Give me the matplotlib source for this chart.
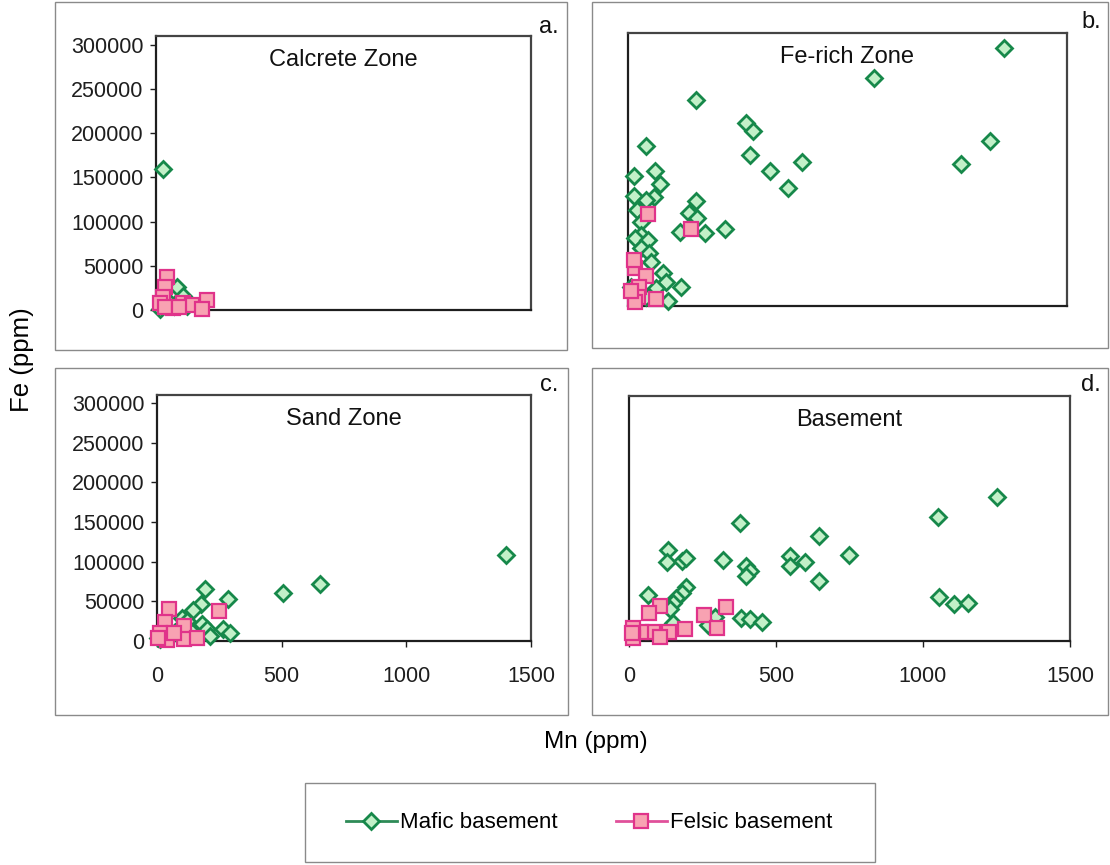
import matplotlib
matplotlib.use("Agg")
import matplotlib.pyplot as plt
from matplotlib.lines import Line2D
from matplotlib.patches import Rectangle

plt.rcParams["font.family"] = ["Liberation Sans", "DejaVu Sans"]

W, H = 1110, 865

# ---- data (Mn ppm, Fe ppm) ----
calcrete_mafic_mn = [29, 85, 109, 53, 16, 123, 70]
calcrete_mafic_fe = [159000, 26000, 16000, 9500, 1500, 4000, 5000]
calcrete_felsic_mn = [43, 36, 29, 16, 69, 36, 109, 143, 203, 183, 90]
calcrete_felsic_fe = [37700, 26400, 15100, 7600, 1900, 3700, 7600, 5700, 11300, 1000, 3000]

ferich_mafic_mn = [1286, 840, 232, 402, 427, 61, 1238, 417, 594, 1139, 486, 545, 20, 93,
                   108, 20, 89, 63, 233, 32, 210, 235, 43, 179, 263, 330, 46, 24, 69, 46,
                   72, 77, 118, 129, 180, 137, 9, 97, 63]
ferich_mafic_fe = [292600, 258500, 233500, 207300, 198600, 182000, 187300, 171800, 163800,
                   160800, 153300, 134300, 147600, 152900, 138400, 124900, 124100, 120300,
                   119200, 109000, 106000, 99600, 95800, 84400, 83300, 87100, 80600, 76900,
                   74900, 65500, 60500, 49600, 37100, 27600, 21900, 6100, 21900, 20000, 10500]
ferich_felsic_mn = [67, 214, 24, 61, 38, 35, 24, 97, 20, 9]
ferich_felsic_fe = [104000, 87000, 42800, 34100, 21900, 10500, 5000, 7500, 52200, 17600]

sand_mafic_mn = [1400, 653, 504, 193, 284, 176, 144, 100, 180, 200, 264, 293, 213, 140,
                 73, 47, 13, 5, 120]
sand_mafic_fe = [108000, 71200, 60700, 64900, 53000, 46700, 39000, 28500, 21200, 14800,
                 14800, 10600, 6400, 11900, 11900, 6400, 2100, 4000, 25000]
sand_felsic_mn = [47, 247, 33, 107, 13, 107, 160, 40, 5, 67]
sand_felsic_fe = [40300, 37400, 23400, 19100, 10700, 2100, 4300, 1000, 4300, 10700]

basement_mafic_mn = [379, 647, 749, 547, 547, 598, 647, 132, 129, 181, 193, 320, 397, 411,
                     397, 64, 193, 181, 161, 149, 138, 291, 380, 411, 451, 149, 269, 1252,
                     1051, 1053, 1104, 1152]
basement_mafic_fe = [149700, 132700, 109400, 107200, 94500, 99600, 75400, 115700, 99600,
                     100900, 105200, 102200, 95400, 88200, 81800, 58500, 68300, 60700,
                     54300, 48700, 40300, 30900, 28800, 27600, 24600, 22500, 20400,
                     182800, 156900, 55600, 46700, 48700]
basement_felsic_mn = [329, 254, 299, 104, 68, 189, 136, 81, 42, 13, 15, 104, 10]
basement_felsic_fe = [42400, 33100, 16100, 44500, 36000, 14800, 11900, 11900, 11900,
                      16100, 3400, 5500, 9800]

y_ticks = [0, 50000, 100000, 150000, 200000, 250000, 300000]
x_ticks = [0, 500, 1000, 1500]

GREEN_EDGE = "#16884a"
GREEN_FACE = "#c2f0c8"
PINK_EDGE = "#e0338a"
PINK_FACE = "#f8a2b2"


def fx(x):
    return x / W


def fy(y):
    return 1 - y / H


def px_axes(fig, left, top, right, bottom):
    return fig.add_axes([fx(left), fy(bottom), (right - left) / W, (bottom - top) / H])


fig = plt.figure(figsize=(W / 100, H / 100), dpi=100)

# panel frames
frames = [(55, 2, 567, 350), (592, 2, 1108, 348), (55, 368, 568, 715), (592, 368, 1108, 715)]
for l, t, r, b in frames:
    fig.add_artist(Rectangle((fx(l), fy(b)), (r - l) / W, (b - t) / H, transform=fig.transFigure,
                             fill=False, edgecolor="#8a8a8a", linewidth=1.0))

panels = [
    ("Calcrete Zone", "a.", (156, 36, 531, 310), calcrete_mafic_mn, calcrete_mafic_fe,
     calcrete_felsic_mn, calcrete_felsic_fe, True, False, (549, 27)),
    ("Fe-rich Zone", "b.", (628, 33, 1067, 306), ferich_mafic_mn, ferich_mafic_fe,
     ferich_felsic_mn, ferich_felsic_fe, False, False, (1091, 22)),
    ("Sand Zone", "c.", (157, 395, 531, 641), sand_mafic_mn, sand_mafic_fe,
     sand_felsic_mn, sand_felsic_fe, True, True, (549, 385)),
    ("Basement", "d.", (629, 396, 1070, 641), basement_mafic_mn, basement_mafic_fe,
     basement_felsic_mn, basement_felsic_fe, False, True, (1091, 385)),
]

for title, letter, box, m_mn, m_fe, f_mn, f_fe, show_y, show_x, lpos in panels:
    l, t, r, b = box
    ax = px_axes(fig, l, t, r, b)
    ax.set_xlim(0, 1500)
    ax.set_ylim(0, 310000)
    ax.plot(m_mn, m_fe, linestyle="none", marker="D", markersize=8.5,
            markerfacecolor=GREEN_FACE, markeredgecolor=GREEN_EDGE, markeredgewidth=2.0,
            clip_on=False, zorder=3)
    ax.plot(f_mn, f_fe, linestyle="none", marker="s", markersize=10,
            markerfacecolor=PINK_FACE, markeredgecolor=PINK_EDGE, markeredgewidth=1.6,
            clip_on=False, zorder=4)
    for s in ax.spines.values():
        s.set_color("#1e1e1e")
        s.set_linewidth(1.6)
    ax.spines["top"].set_color("#444444")
    ax.spines["right"].set_color("#444444")
    if show_y:
        ax.set_yticks(y_ticks)
        ax.set_yticklabels([str(v) for v in y_ticks])
    else:
        ax.set_yticks([])
    if show_x:
        ax.set_xticks(x_ticks)
        ax.set_xticklabels([str(v) for v in x_ticks])
    else:
        ax.set_xticks([])
    ax.tick_params(axis="y", direction="out", length=4, width=1, labelsize=15.5,
                   colors="#1e1e1e", pad=5)
    ax.tick_params(axis="x", direction="out", length=4, width=1, labelsize=15.5,
                   colors="#1e1e1e", pad=14)
    ax.text(0.5, 1 - 24 / (b - t), title, transform=ax.transAxes, ha="center", va="center",
            fontsize=17, color="#111111")
    fig.text(fx(lpos[0]), fy(lpos[1]), letter, ha="center", va="center", fontsize=17,
             color="#111111")

fig.text(fx(22), fy(360), "Fe (ppm)", rotation=90, ha="center", va="center", fontsize=18.5)
fig.text(fx(596), fy(742), "Mn (ppm)", ha="center", va="center", fontsize=17.5)

# legend box
fig.add_artist(Rectangle((fx(305), fy(862)), 570 / W, 79 / H, transform=fig.transFigure,
                         fill=False, edgecolor="#8a8a8a", linewidth=1.0))
handles = [
    Line2D([], [], color="#2e8b57", linewidth=2, marker="D", markersize=8,
           markerfacecolor=GREEN_FACE, markeredgecolor=GREEN_EDGE, markeredgewidth=2.0),
    Line2D([], [], color="#e0509a", linewidth=2, marker="s", markersize=10,
           markerfacecolor=PINK_FACE, markeredgecolor=PINK_EDGE, markeredgewidth=1.6),
]
fig.legend(handles, ["Mafic basement", "Felsic basement"], loc="center",
           bbox_to_anchor=(fx(589), fy(823)), ncol=2, frameon=False, fontsize=16,
           handlelength=2.3, columnspacing=2.6, handletextpad=0.15)

fig.savefig("out.png", dpi=100)
